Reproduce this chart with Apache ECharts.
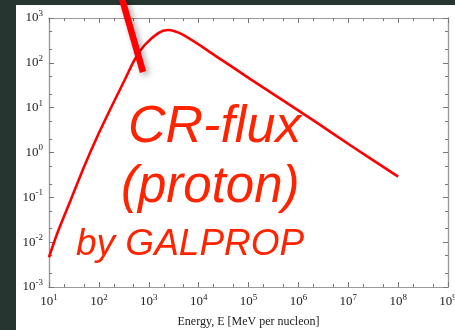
<!DOCTYPE html>
<html>
<head>
<meta charset="utf-8">
<script src="https://cdn.jsdelivr.net/npm/echarts@6/dist/echarts.min.js"></script>
<style>
  html, body { margin: 0; padding: 0; background: #26352f; }
  #chart { width: 455px; height: 330px; }
</style>
</head>
<body>
<div id="chart"></div>
<script>
// Proton cosmic-ray flux versus kinetic energy per nucleon
const energy = [10, 15, 28, 52, 96, 179, 331, 525, 830, 1550, 2400, 4800,
                23000, 107000, 490000, 2.3e6, 1.1e7, 1e8];
const flux = [0.0046, 0.0168, 0.094, 0.52, 2.45, 10.5, 42, 120, 250, 461, 540, 424,
              138, 44, 14.5, 4.7, 1.45, 0.29];

// Decade ticks and the 2x / 5x minor ticks between them
const xMajor = [1e1, 1e2, 1e3, 1e4, 1e5, 1e6, 1e7, 1e8, 1e9];
const yMajor = [1e-3, 1e-2, 1e-1, 1e0, 1e1, 1e2, 1e3];
const minorOf = (majors) => majors.slice(0, -1).flatMap(d => [2 * d, 5 * d]);
const xMinor = minorOf(xMajor);
const yMinor = minorOf(yMajor);

const xTitle = 'Energy, E [MeV per nucleon]';
const notes = ['CR-flux', '(proton)', 'by GALPROP'];

const axisGrey = '#9a9a9a';
const serif = '"Liberation Serif", "DejaVu Serif", serif';

function powLabel(v) {
  const e = Math.round(Math.log10(v));
  return '{m|10}{e|' + e + '}';
}
const labelRich = {
  m: { fontFamily: serif, fontSize: 13, color: '#222' },
  e: { fontFamily: serif, fontSize: 9, color: '#222', padding: [0, 0, 9, 0] }
};

function xAxisDef(position, ticks, len, withLabels) {
  return {
    type: 'log', logBase: 10, min: xMajor[0], max: xMajor[xMajor.length - 1],
    position: position,
    axisLine: { show: true, lineStyle: { color: axisGrey, width: 1.2 } },
    axisTick: { show: true, inside: true, length: len, customValues: ticks,
                lineStyle: { color: '#777', width: 1 } },
    axisLabel: { show: withLabels, customValues: xMajor, margin: 6,
                 formatter: powLabel, rich: labelRich },
    splitLine: { show: false },
    name: withLabels ? xTitle : '',
    nameLocation: 'middle', nameGap: 29,
    nameTextStyle: { fontFamily: serif, fontSize: 12, color: '#222' }
  };
}
function yAxisDef(position, ticks, len, withLabels) {
  return {
    type: 'log', logBase: 10, min: yMajor[0], max: yMajor[yMajor.length - 1],
    position: position,
    axisLine: { show: true, lineStyle: { color: axisGrey, width: 1.2 } },
    axisTick: { show: true, inside: true, length: len, customValues: ticks,
                lineStyle: { color: '#777', width: 1 } },
    axisLabel: { show: withLabels, customValues: yMajor, margin: 6,
                 formatter: powLabel, rich: labelRich },
    splitLine: { show: false }
  };
}

const chart = echarts.init(document.getElementById('chart'), null, { renderer: 'canvas' });

const noteFont = 'italic {s}px "Liberation Sans", Arial, sans-serif';
chart.setOption({
  animation: false,
  backgroundColor: '#26352f',
  grid: { left: 49, top: 18, right: 7, bottom: 43, outerBoundsMode: 'none' },
  xAxis: [
    xAxisDef('bottom', xMajor, 5, true),
    xAxisDef('bottom', xMinor, 3, false),
    xAxisDef('top', xMajor, 5, false),
    xAxisDef('top', xMinor, 3, false)
  ],
  yAxis: [
    yAxisDef('left', yMajor, 5, true),
    yAxisDef('left', yMinor, 3, false),
    yAxisDef('right', yMajor, 5, false),
    yAxisDef('right', yMinor, 3, false)
  ],
  series: [{
    type: 'line',
    xAxisIndex: 0, yAxisIndex: 0,
    data: energy.map((e, i) => [e, flux[i]]),
    smooth: 0.3,
    showSymbol: false,
    lineStyle: { color: '#ff0000', width: 2.6 },
    z: 3
  }],
  graphic: [
    { type: 'rect', z: -10, silent: true,
      shape: { x: 16, y: 5, width: 460, height: 340 },
      style: { fill: '#ffffff' } },
    { type: 'text', z: 20, silent: true, x: 128, y: 128,
      style: { text: notes[0], font: noteFont.replace('{s}', 52), fill: '#ff2400',
               textAlign: 'left', textVerticalAlign: 'middle' } },
    { type: 'text', z: 20, silent: true, x: 121, y: 188,
      style: { text: notes[1], font: noteFont.replace('{s}', 51), fill: '#ff2400',
               textAlign: 'left', textVerticalAlign: 'middle' } },
    { type: 'text', z: 20, silent: true, x: 76, y: 245,
      style: { text: notes[2], font: noteFont.replace('{s}', 37), fill: '#ff2400',
               textAlign: 'left', textVerticalAlign: 'middle' } },
    // pointer stroke coming in from above the panel
    { type: 'line', z: 30, silent: true,
      shape: { x1: 121.5, y1: -3, x2: 143, y2: 72 },
      style: { stroke: '#ff0000', lineWidth: 6.5, lineCap: 'butt',
               shadowBlur: 6, shadowColor: 'rgba(0,0,0,0.35)',
               shadowOffsetX: 3, shadowOffsetY: 3 } }
  ]
});
</script>
</body>
</html>
